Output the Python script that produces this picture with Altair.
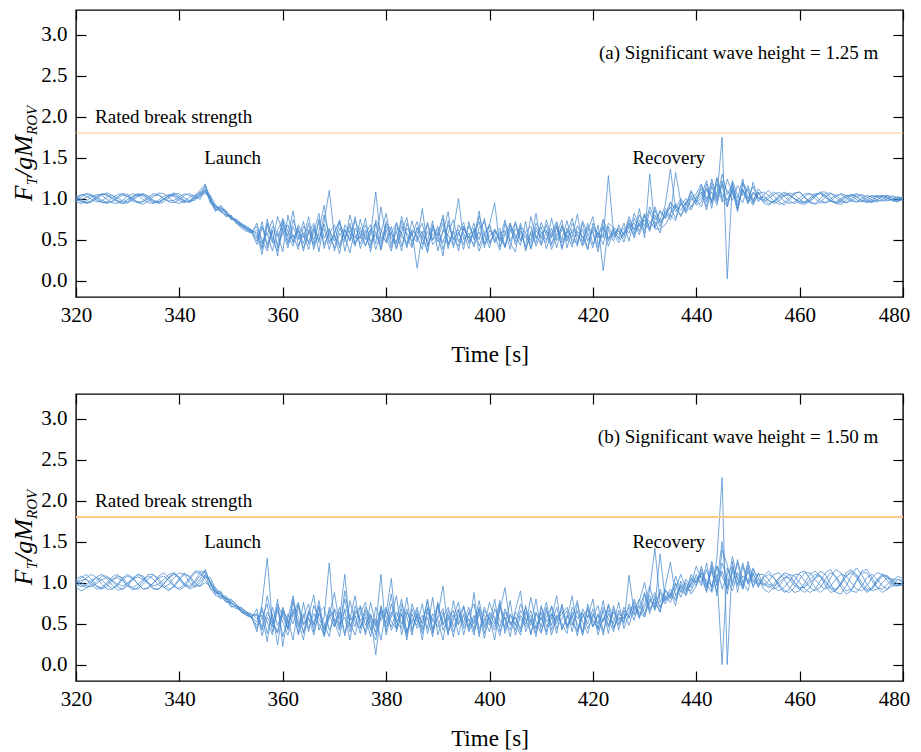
import altair as alt
import pandas as pd

# ---------------- data ----------------
time_s = list(range(320, 481))          # sample times [s], 1 s step
x_ticks = [320, 340, 360, 380, 400, 420, 440, 460, 480]
y_ticks = [0.0, 0.5, 1.0, 1.5, 2.0, 2.5, 3.0]
rated_break = 1.8

# tension / (g M_ROV), in hundredths, panel (a) Hs = 1.25 m
a_run1 = [100,104,106,103,98,95,96,101,105,106,102,97,95,97,102,106,105,100,96,95,99,104,106,103,99,
          112,96,86,90,82,76,72,68,64,60,
          48,72,40,66,58,35,80,52,62,45,
          70,38,60,92,48,55,33,68,57,42,
          75,50,63,38,58,82,45,60,36,70,
          54,47,88,41,62,56,30,73,50,59,
          44,67,52,85,40,61,55,37,70,48,
          63,57,42,78,51,66,39,58,72,46,
          60,53,81,44,65,58,35,72,61,48,
          68,
          55,78,62,70,58,85,66,74,92,136,88,80,95,86,102,
          112,90,120,98,130,105,118,92,110,100,115,96,
          104,110,103,96,92,98,106,108,101,95,94,100,106,107,101,96,95,100,105,104,99,96,98,103,104,100,97,99]
a_run2 = [96,94,97,102,105,104,99,95,94,98,103,106,104,99,95,94,98,103,105,102,97,95,98,103,108,
          115,100,88,84,80,78,70,66,62,58,
          62,40,75,50,36,64,55,85,42,58,
          47,66,35,72,110,53,44,61,50,78,
          39,57,68,45,90,52,36,64,58,42,
          73,49,60,34,66,55,80,43,57,62,
          38,72,50,59,45,68,95,41,56,63,
          48,70,36,60,55,44,74,52,66,40,
          58,76,47,63,38,70,56,66,42,60,
          52,
          70,48,76,60,82,64,72,58,88,78,132,96,82,104,92,
          96,118,88,124,100,90,122,104,95,116,98,108,
          95,92,97,104,108,105,99,94,93,98,104,107,104,98,94,96,101,105,103,98,95,97,102,104,101,97,96,100]
a_run3 = [103,99,95,96,100,105,107,104,98,94,95,100,104,106,103,97,94,96,101,106,106,101,97,98,104,
          106,104,92,88,86,74,75,70,66,62,
          55,32,68,46,78,60,40,66,50,72,
          44,58,82,39,62,48,70,55,34,64,
          51,76,43,60,37,69,56,47,73,40,
          62,54,38,71,49,58,76,45,61,36,
          66,53,44,79,57,40,63,50,74,46,
          35,67,58,49,82,43,60,54,70,38,
          64,50,45,73,57,40,68,12,66,53,
          62,
          47,66,55,88,52,130,63,63,68,80,73,98,84,90,100,
          108,86,115,96,122,94,110,84,118,102,92,106,
          108,104,97,93,95,101,107,108,102,96,93,96,102,106,104,99,95,97,102,105,102,98,96,99,103,103,99,98]
a_run4 = [98,102,106,105,100,96,94,97,102,106,105,100,95,93,97,102,107,106,101,96,94,97,102,104,110,
          118,94,90,86,78,80,70,64,60,58,
          70,45,58,36,62,74,48,56,38,66,
          60,42,75,52,64,36,58,47,80,55,
          45,62,35,70,54,48,66,40,59,77,
          43,64,52,36,68,47,59,84,40,57,
          71,45,62,36,54,69,48,60,40,66,
          56,43,72,38,61,52,68,45,57,74,
          40,63,55,48,70,44,58,52,128,58,
          46,
          58,70,62,80,66,90,74,84,76,95,88,100,92,110,98,
          90,112,96,126,104,98,114,86,120,108,96,112,
          104,98,94,97,103,107,105,99,95,96,102,108,108,101,94,93,98,104,106,102,97,95,99,103,102,98,97,101]
a_run5 = [101,97,94,96,101,105,105,101,96,94,97,102,106,105,100,96,95,99,104,107,103,98,95,100,106,
          110,98,84,92,84,76,73,66,65,60,
          52,66,44,60,30,72,54,42,68,57,
          38,63,50,69,45,57,74,36,61,52,
          65,43,56,108,48,62,40,71,53,46,
          60,15,57,68,44,52,70,39,61,100,
          50,58,41,64,72,47,56,64,42,59,
          70,48,56,40,65,53,46,76,49,62,
          56,41,67,52,60,78,45,57,50,65,
          60,
          52,74,58,68,80,62,86,70,78,90,76,94,86,98,106,
          118,96,124,102,175,2,120,88,112,96,108,100,
          98,103,108,104,97,94,96,101,106,106,100,95,95,100,104,105,101,97,96,100,104,102,98,97,100,103,101,98]
a_run6 = [99,96,95,98,103,106,104,100,97,96,99,103,105,103,98,95,96,100,104,105,101,97,96,101,105,
          108,100,90,86,84,78,74,69,65,61,
          58,38,70,52,44,76,60,48,65,36,
          62,50,72,44,57,68,40,63,48,74,
          56,42,61,70,38,66,52,45,78,54,
          40,65,57,48,73,36,62,55,44,68,
          58,39,64,50,76,45,60,53,41,70,
          52,64,38,58,46,71,56,43,66,50,
          73,45,60,54,38,66,52,75,48,62,
          56,
          64,58,82,66,74,60,90,72,80,96,84,92,100,90,98,
          104,122,94,108,116,90,112,100,124,94,106,102,
          96,100,105,108,103,97,94,97,103,106,104,98,95,97,102,106,104,99,96,97,101,104,102,98,97,100,102,100]
a_run7 = [102,105,103,99,96,97,102,104,101,97,95,98,103,105,102,98,96,99,103,104,100,96,97,102,107,
          110,97,92,84,80,77,73,67,63,59,
          44,64,56,74,40,58,68,46,60,52,
          78,45,56,63,38,60,72,50,66,44,
          60,53,40,74,62,46,58,70,42,64,
          55,72,44,60,50,66,38,58,74,47,
          63,52,70,42,59,66,46,57,61,38,
          72,50,60,66,42,58,50,64,40,68,
          52,60,42,70,48,62,58,44,70,64,
          50,
          60,66,70,56,78,72,64,86,76,82,94,78,90,108,96,
          100,112,98,118,96,124,106,96,110,94,120,100,
          102,97,96,100,104,104,100,96,96,101,106,106,101,97,96,100,104,103,99,96,98,102,104,101,98,99,102,101]
a_run8 = [97,99,102,104,102,98,95,96,101,104,103,99,96,96,100,104,104,100,97,98,102,106,104,100,102,
          116,102,86,88,82,79,71,68,62,60,
          66,50,36,62,54,68,44,74,56,40,
          58,70,46,80,55,40,64,52,70,46,
          54,68,48,56,44,72,60,38,66,58,
          48,58,70,44,56,62,46,68,52,42,
          66,48,58,72,44,54,62,48,58,70,
          44,60,52,46,70,58,62,38,54,66,
          48,70,58,42,56,60,40,66,52,56,
          64,
          56,70,52,74,62,70,80,66,84,74,92,86,96,100,94,
          116,100,108,92,118,110,98,116,104,112,94,108,
          99,94,96,102,106,105,100,96,95,99,104,107,103,97,95,98,103,105,102,98,96,99,103,103,100,98,99,101]

# panel (b) Hs = 1.50 m
b_run1 = [100,106,110,104,96,92,95,103,108,106,99,93,92,98,105,109,105,97,92,95,103,110,108,100,95,
          108,102,90,80,82,76,70,66,62,58,
          40,75,130,50,38,66,55,30,72,48,
          60,85,42,58,124,46,64,35,78,52,
          44,70,58,12,66,50,86,40,62,34,
          74,56,45,80,38,60,96,42,54,68,
          36,64,50,78,45,58,30,72,55,42,
          66,90,40,56,34,70,52,62,38,74,
          48,60,35,68,57,80,42,54,66,45,
          58,
          50,109,62,72,58,92,142,76,90,80,100,88,104,94,110,
          96,124,90,130,228,0,126,88,120,98,112,94,
          108,114,106,96,88,92,102,112,114,104,94,88,94,106,116,112,100,90,88,96,106,110,104,96,92,96,104,102]
b_run2 = [94,90,93,100,107,110,105,97,91,92,99,106,110,106,98,92,92,99,107,112,106,98,92,96,104,
          115,100,86,88,78,74,72,64,60,57,
          68,35,58,46,80,22,62,50,74,38,
          56,45,70,36,60,88,48,58,30,66,
          54,40,76,48,110,36,64,52,44,82,
          40,62,30,70,55,46,64,36,78,50,
          60,42,88,34,66,56,46,74,38,62,
          50,36,64,48,80,40,58,70,44,56,
          66,40,74,52,38,62,50,78,46,68,
          42,
          66,56,80,60,74,96,70,135,78,88,72,102,90,98,120,
          104,90,118,84,140,122,96,128,100,90,116,106,
          92,88,94,104,112,110,100,92,88,94,106,114,110,98,88,86,96,108,118,110,98,90,92,100,106,104,98,96]
b_run3 = [104,108,104,97,92,93,100,107,110,104,96,91,94,102,110,110,102,94,90,96,106,112,106,96,96,
          100,96,94,86,80,80,72,68,64,62,
          56,60,28,70,48,64,42,80,36,58,
          74,40,62,50,34,68,56,110,46,60,
          38,66,52,40,72,46,58,84,36,64,
          50,70,42,58,34,76,48,62,40,56,
          72,46,60,38,70,52,42,66,94,48,
          58,44,72,36,62,54,76,42,60,50,
          38,70,56,64,44,58,72,40,62,50,
          76,
          44,62,72,56,86,66,80,64,95,125,84,96,88,110,100,
          112,88,122,96,114,94,132,104,92,118,100,110,
          110,104,94,90,94,102,110,110,102,94,90,94,104,112,108,98,90,92,102,112,112,102,94,92,98,104,104,100]
b_run4 = [98,95,97,103,106,103,97,93,96,104,108,105,98,92,93,100,108,112,106,96,91,95,104,112,112,
          104,94,84,82,84,72,68,70,64,56,
          48,66,52,36,74,58,44,68,52,30,
          66,50,78,42,60,46,70,38,56,84,
          46,58,34,70,54,62,105,44,68,40,
          56,48,74,38,62,54,30,66,58,76,
          44,56,36,68,60,48,80,40,58,34,
          64,56,46,82,52,38,66,48,70,44,
          56,84,42,62,50,68,36,58,48,64,
          54,
          62,48,70,64,58,80,68,88,74,84,98,82,100,86,96,
          120,98,88,110,0,118,100,124,92,114,96,104,
          100,96,92,96,104,110,108,100,92,88,92,102,112,116,106,94,86,90,102,114,116,106,94,88,92,102,108,104]
b_run5 = [102,100,96,95,99,104,106,103,98,96,99,104,107,104,99,96,98,104,110,112,104,96,94,100,108,
          116,98,88,85,80,78,74,68,64,60,
          62,45,84,54,40,70,50,64,38,76,
          44,62,50,36,70,56,42,90,54,62,
          70,36,60,46,66,40,74,52,62,30,
          68,52,60,44,82,36,58,70,46,60,
          52,70,40,62,48,76,56,35,64,52,
          42,66,54,60,38,72,46,56,84,42,
          60,48,66,36,74,52,44,70,56,40,
          66,
          52,74,60,68,88,62,84,70,80,92,78,96,84,100,106,
          100,116,94,120,108,92,114,98,124,100,110,98,
          104,98,96,100,106,106,100,94,94,100,106,108,102,94,92,98,108,114,110,100,92,92,100,108,108,102,98,98]
b_run6 = [96,100,106,110,106,98,92,92,98,106,110,106,98,92,94,100,106,108,102,95,93,98,106,114,114,
          112,92,90,84,76,76,70,66,60,58,
          52,70,38,62,24,68,46,76,58,40,
          64,48,72,34,58,66,44,80,50,36,
          62,76,42,56,30,68,52,44,74,58,
          36,66,50,78,44,56,68,38,60,48,
          70,40,56,66,32,62,50,78,42,60,
          48,74,56,38,64,46,70,36,58,66,
          44,58,78,36,60,54,44,66,38,72,
          50,
          58,70,54,78,100,68,76,64,92,82,108,90,86,104,100,
          116,94,126,100,150,86,118,106,96,122,94,112,
          96,102,110,112,104,94,88,90,100,110,114,108,96,88,90,100,112,116,108,96,88,92,102,110,108,100,96,98]
b_run7 = [101,97,94,96,102,108,108,102,95,92,96,104,110,108,100,93,92,98,106,110,106,98,96,102,112,
          106,106,92,84,80,70,72,66,62,60,
          60,42,64,50,70,34,56,84,46,62,
          40,72,56,44,66,52,34,68,60,46,
          72,48,62,36,58,70,42,56,80,38,
          62,44,56,68,40,72,50,58,34,66,
          48,62,74,44,56,40,68,54,46,78,
          36,60,50,66,44,58,40,72,54,62,
          70,52,40,58,66,46,62,36,74,56,
          48,
          70,58,66,80,62,76,88,70,84,76,92,110,94,90,104,
          108,96,114,88,124,104,90,112,96,126,104,96,
          106,110,106,98,90,88,94,104,112,112,104,96,92,96,104,110,108,100,92,90,96,106,112,110,102,96,96,100]
b_run8 = [99,103,104,100,95,94,98,104,106,102,96,94,98,104,108,104,97,94,98,106,112,110,100,94,100,
          110,100,88,90,78,76,70,64,62,58,
          44,58,74,40,66,52,36,62,76,50,
          58,36,64,70,42,56,50,66,40,72,
          54,62,44,30,70,58,46,64,50,68,
          44,60,38,64,52,74,42,56,66,36,
          62,54,44,70,38,64,56,46,68,50,
          58,40,70,52,44,64,36,62,50,72,
          46,64,50,40,70,46,60,52,72,44,
          62,
          56,64,76,58,70,84,66,92,78,86,80,98,92,106,96,
          112,102,96,120,92,110,120,96,108,102,118,100,
          98,94,98,106,110,104,96,92,96,104,110,108,100,92,90,98,108,112,106,96,90,94,104,110,106,98,96,100]

note_txt = ["Launch", "Recovery"]
note_t = [350.3, 434.7]
note_v = [1.49, 1.49]
rated_txt = "Rated break strength"
rated_t, rated_v = 323.7, 2.0
panel_labels = ["(a) Significant wave height = 1.25 m", "(b) Significant wave height = 1.50 m"]
label_t, label_v = 475.2, 2.77

# ---------------- style ----------------
FONT = "Liberation Serif"
BLUE = "#4A8BD0"
ORANGE = "#FBC98C"
W, H = 827, 287
XS = alt.Scale(domain=[320, 480], nice=False, zero=False)
YS = alt.Scale(domain=[-0.2, 3.3], nice=False, zero=False)
TICK_IN = {"expr": "-10"}
LAST_LABEL_SHIFT = {"condition": {"test": "datum.value == 480", "value": -9}, "value": 0}


def long_df(runs):
    rows = []
    for k, r in enumerate(runs):
        for i, v in enumerate(r):
            rows.append({"t": time_s[i], "v": v / 100.0, "run": k})
    return pd.DataFrame(rows)


def ytitle_layers():
    # F_T / g M_ROV, rotated, built from pieces
    pieces = [("F", 26, 0, 0.611), ("T", 15, 5, 0.556), ("/gM", 26, 0, 1.611), ("ROV", 15, 5, 1.944)]
    total = sum(fs * em for _, fs, _, em in pieces)
    pos = H / 2 + total / 2
    base_x = -44
    out = []
    for txt, fs, shift, em in pieces:
        out.append(
            alt.Chart(pd.DataFrame({"s": [txt]})).mark_text(
                font=FONT, fontStyle="italic", fontSize=fs, angle=270,
                align="left", baseline="alphabetic", color="black"
            ).encode(text="s:N", x=alt.value(base_x + shift), y=alt.value(pos))
        )
        pos -= fs * em
    return out


def panel(runs, label, rule_w):
    df = long_df(runs)
    lines = alt.Chart(df).mark_line(color=BLUE, strokeWidth=0.9, opacity=0.85).encode(
        x=alt.X("t:Q", scale=XS,
                axis=alt.Axis(orient="bottom", values=x_ticks, title="Time [s]", format="d",
                              labelFlush=False, labelOffset=LAST_LABEL_SHIFT,
                              tickSize=TICK_IN, labelPadding=17, titlePadding=18)),
        y=alt.Y("v:Q", scale=YS,
                axis=alt.Axis(orient="left", values=y_ticks, title=None, format=".1f",
                              labelFlush=False, tickSize=TICK_IN, labelPadding=19)),
        detail="run:N",
    )
    rule = alt.Chart(pd.DataFrame({"v": [rated_break]})).mark_rule(
        color=ORANGE, strokeWidth=rule_w
    ).encode(y=alt.Y("v:Q", scale=YS, axis=None))

    notes = alt.Chart(pd.DataFrame({"t": note_t, "v": note_v, "s": note_txt})).mark_text(
        font=FONT, fontSize=19, align="center", baseline="middle", color="black"
    ).encode(
        x=alt.X("t:Q", scale=XS,
                axis=alt.Axis(orient="top", values=x_ticks, labels=False, title=None,
                              tickSize=TICK_IN)),
        y=alt.Y("v:Q", scale=YS,
                axis=alt.Axis(orient="right", values=y_ticks, labels=False, title=None,
                              tickSize=TICK_IN)),
        text="s:N",
    )
    rated = alt.Chart(pd.DataFrame({"t": [rated_t], "v": [rated_v], "s": [rated_txt]})).mark_text(
        font=FONT, fontSize=19, align="left", baseline="middle", color="black"
    ).encode(x=alt.X("t:Q", scale=XS, axis=None), y=alt.Y("v:Q", scale=YS, axis=None), text="s:N")
    lab = alt.Chart(pd.DataFrame({"t": [label_t], "v": [label_v], "s": [label]})).mark_text(
        font=FONT, fontSize=19, align="right", baseline="middle", color="black"
    ).encode(x=alt.X("t:Q", scale=XS, axis=None), y=alt.Y("v:Q", scale=YS, axis=None), text="s:N")

    return alt.layer(lines, rule, notes, rated, lab, *ytitle_layers()).resolve_axis(
        x="independent", y="independent"
    ).properties(width=W, height=H)


pa = panel([a_run1, a_run2, a_run3, a_run4, a_run5, a_run6, a_run7, a_run8], panel_labels[0], 1.2)
pb = panel([b_run1, b_run2, b_run3, b_run4, b_run5, b_run6, b_run7, b_run8], panel_labels[1], 2.2)

chart = alt.vconcat(pa, pb, spacing=25).properties(
    padding={"left": 2, "top": 0, "right": 0, "bottom": 0}
).configure_axis(
    labelFont=FONT, labelFontSize=21, labelColor="black",
    titleFont=FONT, titleFontSize=23, titleFontWeight="normal", titleColor="black",
    tickColor="black", tickWidth=1.2, domain=False, grid=False,
).configure_view(stroke="black", strokeWidth=1.4)

chart.save("out.html", embed_options={"renderer": "svg", "actions": False})
